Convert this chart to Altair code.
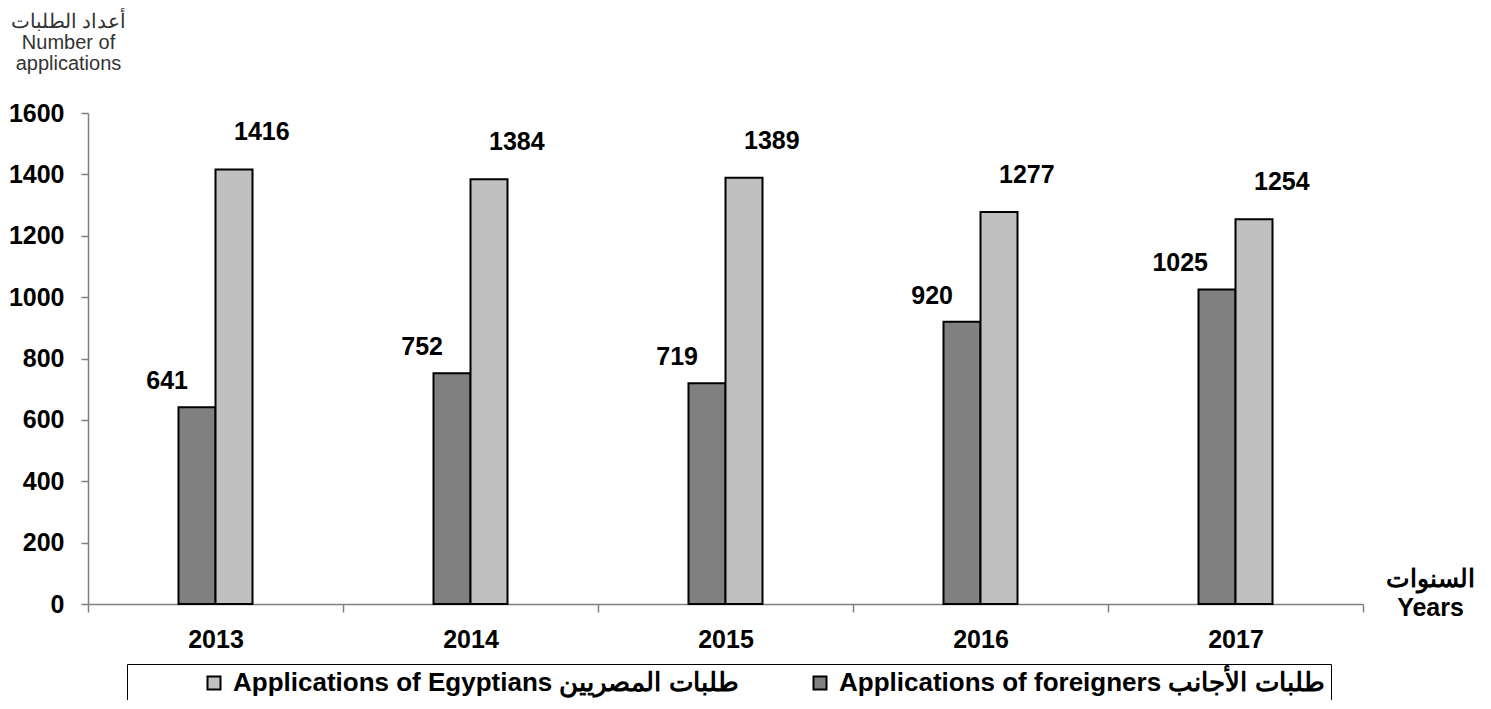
import altair as alt
import pandas as pd

years = ["2013", "2014", "2015", "2016", "2017"]
foreigners = [641, 752, 719, 920, 1025]
egyptians = [1416, 1384, 1389, 1277, 1254]
y_ticks = [0, 200, 400, 600, 800, 1000, 1200, 1400, 1600]

EG = "Applications of Egyptians طلبات المصريين"
FO = "Applications of foreigners طلبات الأجانب"

rows = []
for yr, f, e in zip(years, foreigners, egyptians):
    rows.append({"year": yr, "series": FO, "value": f})
    rows.append({"year": yr, "series": EG, "value": e})
df = pd.DataFrame(rows)

FONT = "Liberation Sans"

x_enc = alt.X(
    "year:N",
    sort=years,
    scale=alt.Scale(paddingInner=0, paddingOuter=0),
    axis=alt.Axis(
        title=["السنوات", "Years"],
        titleFontSize=25,
        titleFontWeight="bold",
        titleColor="black",
        titleAngle=0,
        titleAlign="center",
        titleBaseline="top",
        titleX=1342,
        titleY=-38,
        titleLineHeight=29,
        labelAngle=0,
        labelFontSize=25,
        labelFontWeight="bold",
        labelColor="black",
        labelPadding=15,
        tickBand="extent",
        tickSize=8,
        tickColor="#808080",
        tickWidth=1.5,
        domainColor="#808080",
        domainWidth=1.5,
    ),
)
xo_enc = alt.XOffset(
    "series:N",
    sort=[FO, EG],
    scale=alt.Scale(paddingInner=0, paddingOuter=0, range=[90.5, 164.5]),
)
y_enc = alt.Y(
    "value:Q",
    scale=alt.Scale(domain=[0, 1600], nice=False),
    axis=alt.Axis(
        values=y_ticks,
        format="d",
        grid=False,
        title=["أعداد الطلبات", "Number of", "applications"],
        titleFontSize=20,
        titleFontWeight="normal",
        titleColor="#333333",
        titleAngle=0,
        titleAlign="center",
        titleBaseline="top",
        titleX=-20,
        titleY=-102,
        titleLineHeight=21,
        labelFontSize=25,
        labelFontWeight="bold",
        labelColor="black",
        labelPadding=17,
        tickSize=7,
        tickColor="#808080",
        tickWidth=1.5,
        domainColor="#808080",
        domainWidth=1.5,
    ),
)

bars = alt.Chart(df).mark_bar(stroke="black", strokeWidth=2).encode(
    x=x_enc,
    xOffset=xo_enc,
    y=y_enc,
    color=alt.Color(
        "series:N",
        scale=alt.Scale(domain=[EG, FO], range=["#c0c0c0", "#808080"]),
        legend=alt.Legend(
            orient="none",
            legendX=39,
            legendY=551,
            direction="horizontal",
            title=None,
            symbolType="square",
            symbolSize=169,
            symbolStrokeColor="black",
            symbolStrokeWidth=2,
            symbolOpacity=1,
            symbolOffset=68,
            labelOffset=6,
            labelFontSize=26,
            labelFontWeight="bold",
            labelColor="black",
            labelLimit=900,
            columnPadding=-30,
            padding=6,
            strokeColor="black",
        ),
    ),
)

text_fo = alt.Chart(df).transform_filter(alt.datum.series == FO).mark_text(
    align="right", baseline="middle", dx=-9, dy=-26,
    fontSize=25, fontWeight="bold", color="black", font=FONT,
).encode(x=alt.X("year:N", sort=years), xOffset=xo_enc, y="value:Q", text="value:Q")

text_eg = alt.Chart(df).transform_filter(alt.datum.series == EG).mark_text(
    align="left", baseline="middle", dx=0, dy=-37,
    fontSize=25, fontWeight="bold", color="black", font=FONT,
).encode(x=alt.X("year:N", sort=years), xOffset=xo_enc, y="value:Q", text="value:Q")

chart = (
    alt.layer(bars, text_fo, text_eg)
    .properties(
        width=1275,
        height=491,
        autosize=alt.AutoSizeParams(type="none"),
        padding={"left": 80, "top": 105, "right": 115, "bottom": 96},
    )
    .configure(font=FONT)
    .configure_view(stroke=None)
)

chart.save("out.html", embed_options={"renderer": "svg", "actions": False})
